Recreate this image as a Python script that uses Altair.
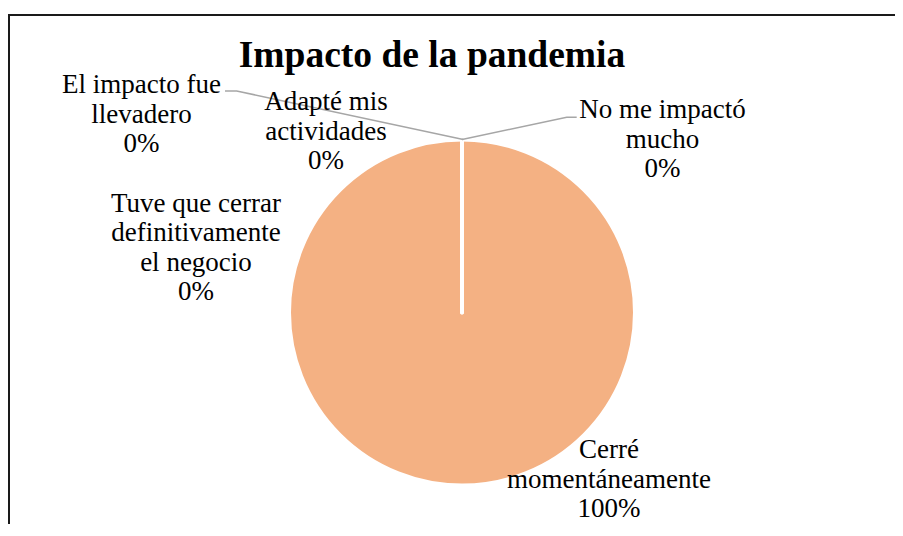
import altair as alt
import pandas as pd

# ---- data ----
categories = [
    "No me impactó mucho",
    "Adapté mis actividades",
    "Cerré momentáneamente",
    "Tuve que cerrar definitivamente el negocio",
    "El impacto fue llevadero",
]
values = [0, 0, 100, 0, 0]
label_texts = [
    ["No me impactó", "mucho", "0%"],
    ["Adapté mis", "actividades", "0%"],
    ["Cerré", "momentáneamente", "100%"],
    ["Tuve que cerrar", "definitivamente", "el negocio", "0%"],
    ["El impacto fue", "llevadero", "0%"],
]
title_text = "Impacto de la pandemia"

# ---- layout (pixels in chart space) ----
W, H = 887, 516
CX, CY, R = 454, 304.5, 173
label_x = [654.5, 318, 601, 188, 133.5]
label_y = [110.3, 102, 450.3, 203.7, 85]
leader_x = [217, 228.7, 455.3, 454, 558.7, 568.7]
leader_y = [83, 83, 131.5, 131.5, 109.3, 109.3]
leader_g = ["a", "a", "a", "b", "b", "b"]

FONT = "Times New Roman, Liberation Serif, Tinos, DejaVu Serif, serif"
ORANGE = "#F4B183"

pie_df = pd.DataFrame({"cat": categories, "val": values, "ord": list(range(len(values)))})
lab_df = pd.DataFrame({"txt": label_texts, "px": label_x, "py": label_y})
lead_df = pd.DataFrame({"px": leader_x, "py": leader_y, "g": leader_g, "i": list(range(6))})

pie = alt.Chart(pie_df).mark_arc(
    outerRadius=R, stroke="white", strokeWidth=4, strokeJoin="round", color=ORANGE
).encode(
    theta=alt.Theta("val:Q", stack=True),
    order=alt.Order("ord:Q"),
    x=alt.value(CX),
    y=alt.value(CY),
)

leaders = alt.Chart(lead_df).mark_line(color="#A6A6A6", strokeWidth=1.5).encode(
    x=alt.X("px:Q", scale=None, axis=None),
    y=alt.Y("py:Q", scale=None, axis=None),
    detail="g:N",
    order="i:Q",
)

labels = alt.Chart(lab_df).mark_text(
    font=FONT, fontSize=27, color="black", align="center", baseline="alphabetic", lineHeight=29.6
).encode(
    x=alt.X("px:Q", scale=None, axis=None),
    y=alt.Y("py:Q", scale=None, axis=None),
    text="txt",
)

title = alt.Chart(pd.DataFrame({"t": [title_text]})).mark_text(
    font=FONT, fontSize=37.5, fontWeight="bold", color="black", align="center", baseline="alphabetic"
).encode(x=alt.value(424), y=alt.value(59), text="t:N")

border_top = alt.Chart(pd.DataFrame({"a": [0]})).mark_rule(color="#1a1a1a", strokeWidth=2).encode(
    x=alt.value(0), x2=alt.value(W), y=alt.value(7), y2=alt.value(7)
)
border_left = alt.Chart(pd.DataFrame({"a": [0]})).mark_rule(color="#1a1a1a", strokeWidth=2).encode(
    x=alt.value(1), x2=alt.value(1), y=alt.value(6), y2=alt.value(H + 10)
)

chart = alt.layer(pie, leaders, labels, title, border_top, border_left).properties(
    width=W, height=H, autosize=alt.AutoSizeParams(type="none"), padding=0
).configure_view(stroke=None)

chart.save("out.html", embed_options={"renderer": "svg", "actions": False})
